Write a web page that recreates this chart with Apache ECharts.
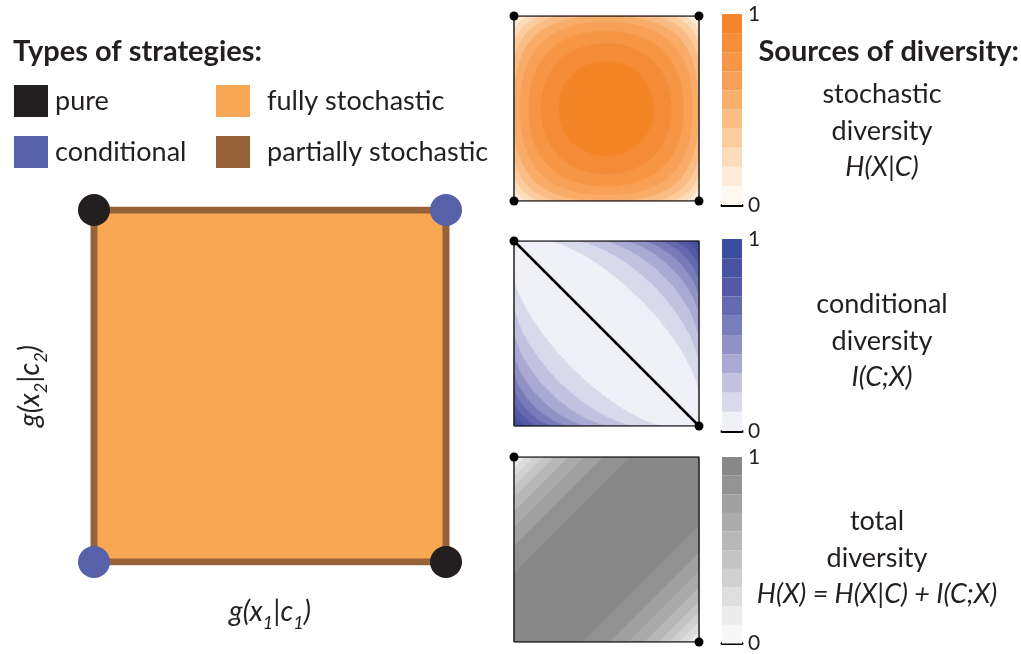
<!DOCTYPE html>
<html>
<head>
<meta charset="utf-8">
<script src="https://cdn.jsdelivr.net/npm/echarts@6/dist/echarts.min.js"></script>
<style>
  html, body { margin: 0; padding: 0; background: #ffffff; }
  #chart { width: 1021px; height: 654px; }
</style>
</head>
<body>
<div id="chart"></div>
<script>
// ---- Strategy space: p = g(x1|c1) on x, q = g(x2|c2) on y, both in [0, 1] ----
const squareCorners = [[0, 0], [0, 1], [1, 1], [1, 0]];
const squareOutline = [[0, 0], [0, 1], [1, 1], [1, 0], [0, 0]];
const pureStrategies = [[0, 1], [1, 0]];
const conditionalStrategies = [[0, 0], [1, 1]];

// Corners where each diversity measure is zero
const stochasticZeroCorners = [[0, 0], [0, 1], [1, 1], [1, 0]];
const conditionalZeroCorners = [[0, 1], [1, 0]];
const totalZeroCorners = [[0, 1], [1, 0]];
// Independence line p + q = 1, where I(C;X) = 0
const independenceLine = [[0, 1], [1, 0]];

// Contour levels and colour bands (lightest to darkest)
const levelEdges = [0, 0.1, 0.2, 0.3, 0.4, 0.5, 0.6, 0.7, 0.8, 0.9, 1];
const colorbarTicks = ['0', '1'];
const orangeBands = ['#FFF8F0', '#FEEBD8', '#FDDCBC', '#FCCC9F', '#FBBD84', '#F9AE6B', '#F8A057', '#F69646', '#F58D39', '#F4852B'];
const blueBands = ['#F0F0F8', '#D9D9EC', '#C2C1E0', '#A9A9D3', '#9092C6', '#7A7DBB', '#676AB1', '#5559A8', '#4853A3', '#3B4D9E'];
const grayBands = ['#F7F7F7', '#EBEBEB', '#DEDEDE', '#D1D1D1', '#C4C4C4', '#B8B8B8', '#ACACAC', '#A0A0A0', '#939393', '#888888'];

// Strategy type colours
const strategyColors = {
  pure: '#231F20',
  conditional: '#5661A9',
  fully: '#F8A755',
  partially: '#97643A'
};

const gridSteps = 185;
const textFont = 'Lato, "Open Sans", sans-serif';
const ink = '#231F20';

// Entropy of a binary choice, in bits
function binaryEntropy(x) {
  if (x <= 0 || x >= 1) return 0;
  return -x * Math.log2(x) - (1 - x) * Math.log2(1 - x);
}
// Two equally likely conditions; P(x1|c1) = p, P(x2|c2) = q
function stochasticDiversity(p, q) { return 0.5 * (binaryEntropy(p) + binaryEntropy(q)); }
function totalDiversity(p, q) { return binaryEntropy(0.5 * (1 + p - q)); }
function conditionalDiversity(p, q) { return Math.max(0, totalDiversity(p, q) - stochasticDiversity(p, q)); }

function sampleField(fn) {
  const out = [];
  for (let i = 0; i < gridSteps; i++) {
    const p = (i + 0.5) / gridSteps;
    for (let j = 0; j < gridSteps; j++) {
      const q = (j + 0.5) / gridSteps;
      out.push([i, j, fn(p, q)]);
    }
  }
  return out;
}

function bandPieces(colors) {
  return colors.map((c, k) => k === colors.length - 1
    ? { gte: levelEdges[k], lte: levelEdges[k + 1], color: c }
    : { gte: levelEdges[k], lt: levelEdges[k + 1], color: c });
}

const panels = [
  { top: 16, cbTop: 14, cbHeight: 191, field: stochasticDiversity, colors: orangeBands, dots: stochasticZeroCorners, line: null },
  { top: 241, cbTop: 239, cbHeight: 192, field: conditionalDiversity, colors: blueBands, dots: conditionalZeroCorners, line: independenceLine },
  { top: 457, cbTop: 457, cbHeight: 188, field: totalDiversity, colors: grayBands, dots: totalZeroCorners, line: null }
];

const categoryIdx = Array.from({ length: gridSteps }, (_, i) => i);
const hidden = { show: false };

const axisNameStyle = {
  fontFamily: textFont, fontSize: 28, color: ink,
  rich: {
    i: { fontFamily: textFont, fontSize: 28, fontStyle: 'italic', color: ink },
    s: { fontFamily: textFont, fontSize: 18, fontStyle: 'italic', color: ink, padding: [22, 0, 0, 0] }
  }
};

const grid = [{ left: 94, top: 210, width: 352, height: 352 }];
const xAxis = [{
  type: 'value', min: 0, max: 1, gridIndex: 0,
  axisLine: hidden, axisTick: hidden, axisLabel: hidden, splitLine: hidden,
  name: '{i|g(x}{s|1}{i||c}{s|1}{i|)}', nameLocation: 'middle', nameGap: 30,
  nameTextStyle: axisNameStyle
}];
const yAxis = [{
  type: 'value', min: 0, max: 1, gridIndex: 0,
  axisLine: hidden, axisTick: hidden, axisLabel: hidden, splitLine: hidden,
  name: '{i|g(x}{s|2}{i||c}{s|2}{i|)}', nameLocation: 'middle', nameGap: 44, nameRotate: 90,
  nameTextStyle: axisNameStyle
}];

const series = [
  {
    type: 'custom', name: 'fully stochastic', xAxisIndex: 0, yAxisIndex: 0, silent: true,
    itemStyle: { color: strategyColors.fully },
    data: [[0.5, 0.5]],
    renderItem: (params, api) => ({
      type: 'polygon',
      shape: { points: squareCorners.map(c => api.coord(c)) },
      style: { fill: strategyColors.fully }
    }),
    z: 1
  },
  {
    type: 'line', name: 'partially stochastic', xAxisIndex: 0, yAxisIndex: 0, silent: true,
    data: squareOutline, showSymbol: false, symbol: 'none',
    lineStyle: { color: strategyColors.partially, width: 7 },
    itemStyle: { color: strategyColors.partially },
    z: 2
  },
  {
    type: 'scatter', name: 'pure', xAxisIndex: 0, yAxisIndex: 0, silent: true,
    data: pureStrategies, symbolSize: 32,
    itemStyle: { color: strategyColors.pure, opacity: 1 }, z: 3
  },
  {
    type: 'scatter', name: 'conditional', xAxisIndex: 0, yAxisIndex: 0, silent: true,
    data: conditionalStrategies, symbolSize: 32,
    itemStyle: { color: strategyColors.conditional, opacity: 1 }, z: 3
  }
];
const visualMap = [];

panels.forEach((panel) => {
  // Contour panel
  const g = grid.length;
  grid.push({ left: 514, top: panel.top, width: gridSteps, height: gridSteps });
  const xc = xAxis.length;
  xAxis.push({ type: 'category', data: categoryIdx, gridIndex: g, show: false });
  xAxis.push({ type: 'value', min: 0, max: 1, gridIndex: g, show: false });
  const yc = yAxis.length;
  yAxis.push({ type: 'category', data: categoryIdx, gridIndex: g, show: false });
  yAxis.push({ type: 'value', min: 0, max: 1, gridIndex: g, show: false });

  visualMap.push({
    type: 'piecewise', show: false, seriesIndex: series.length, dimension: 2,
    pieces: bandPieces(panel.colors)
  });
  series.push({
    type: 'heatmap', xAxisIndex: xc, yAxisIndex: yc, silent: true,
    data: sampleField(panel.field),
    progressive: 0, progressiveThreshold: 1e7,
    itemStyle: { borderWidth: 0 },
    emphasis: { disabled: true }, z: 2
  });
  series.push({
    type: 'line', xAxisIndex: xc + 1, yAxisIndex: yc + 1, silent: true,
    data: squareOutline, symbol: 'none',
    lineStyle: { color: ink, width: 1.5 }, z: 3
  });
  if (panel.line) {
    series.push({
      type: 'line', xAxisIndex: xc + 1, yAxisIndex: yc + 1, silent: true,
      data: panel.line, symbol: 'none',
      lineStyle: { color: '#000000', width: 2.5 }, z: 4
    });
  }
  series.push({
    type: 'scatter', xAxisIndex: xc + 1, yAxisIndex: yc + 1, silent: true,
    data: panel.dots, symbolSize: 9,
    itemStyle: { color: '#000000', opacity: 1 }, z: 5
  });

  // Colour bar
  const cg = grid.length;
  grid.push({ left: 722, top: panel.cbTop, width: 20, height: panel.cbHeight });
  const cx = xAxis.length;
  xAxis.push({
    type: 'category', data: ['bar'], gridIndex: cg,
    axisLine: { show: true, lineStyle: { color: '#000000', width: 3 } },
    axisTick: hidden, axisLabel: hidden, splitLine: hidden
  });
  const cy = yAxis.length;
  yAxis.push({
    type: 'value', min: 0, max: 1, interval: 1, gridIndex: cg, position: 'right',
    axisLine: hidden, axisTick: hidden, splitLine: hidden,
    axisLabel: {
      margin: 6, fontFamily: textFont, fontSize: 21, color: ink,
      formatter: (v) => colorbarTicks[Math.round(v)]
    }
  });
  panel.colors.forEach((c, k) => {
    series.push({
      type: 'bar', xAxisIndex: cx, yAxisIndex: cy, silent: true,
      stack: 'bar' + cg, barWidth: '100%',
      data: [levelEdges[k + 1] - levelEdges[k]],
      itemStyle: { color: c }, z: 1
    });
  });
});

const legendCommon = {
  orient: 'vertical', top: 85, padding: 0,
  itemWidth: 34, itemHeight: 32, itemGap: 19, icon: 'rect',
  selectedMode: false,
  textStyle: { fontFamily: textFont, fontSize: 27, color: ink }
};

const blockText = (text) => ({
  text, fontFamily: textFont, fontSize: 27, fill: ink, align: 'center', verticalAlign: 'middle', lineHeight: 36.5,
  rich: { m: { fontFamily: textFont, fontSize: 27, fontStyle: 'italic', fill: ink, lineHeight: 36.5 } }
});

const option = {
  animation: false,
  backgroundColor: '#ffffff',
  grid, xAxis, yAxis, series, visualMap,
  legend: [
    Object.assign({}, legendCommon, { left: 14, data: ['pure', 'conditional'],
      textStyle: Object.assign({}, legendCommon.textStyle, { padding: [0, 0, 0, 2] }) }),
    Object.assign({}, legendCommon, { left: 216, data: ['fully stochastic', 'partially stochastic'],
      textStyle: Object.assign({}, legendCommon.textStyle, { padding: [0, 0, 0, 12] }) })
  ],
  graphic: [
    { type: 'text', x: 13, y: 52, silent: true,
      style: { text: 'Types of strategies:', fontFamily: textFont, fontSize: 29, fontWeight: 'bold', fill: ink, align: 'left', verticalAlign: 'middle' } },
    { type: 'text', x: 1019, y: 52, silent: true,
      style: { text: 'Sources of diversity:', fontFamily: textFont, fontSize: 29, fontWeight: 'bold', fill: ink, align: 'right', verticalAlign: 'middle' } },
    { type: 'text', x: 882, y: 131, silent: true, style: blockText('stochastic\ndiversity\n{m|H(X|C)}') },
    { type: 'text', x: 882, y: 341, silent: true, style: blockText('conditional\ndiversity\n{m|I(C;X)}') },
    { type: 'text', x: 877, y: 558, silent: true, style: blockText('total\ndiversity\n{m|H(X) = H(X|C) + I(C;X)}') }
  ]
};

const chart = echarts.init(document.getElementById('chart'), null, { renderer: 'canvas' });
chart.setOption(option);
</script>
</body>
</html>
